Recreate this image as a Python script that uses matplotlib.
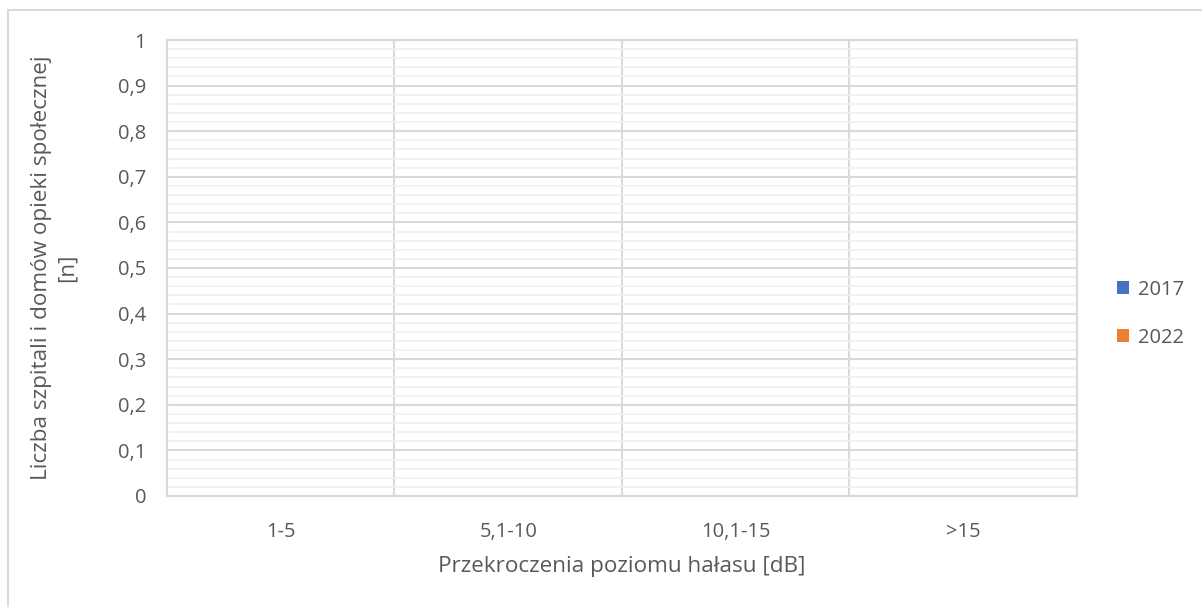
import matplotlib.pyplot as plt
import numpy as np
from matplotlib.lines import Line2D
from matplotlib.patches import Patch

categories = ['1-5', '5,1-10', '10,1-15', '>15']
series_names = ['2017', '2022']
values_2017 = [0, 0, 0, 0]
values_2022 = [0, 0, 0, 0]
y_ticks = [0, 0.1, 0.2, 0.3, 0.4, 0.5, 0.6, 0.7, 0.8, 0.9, 1]
y_labels = ['0', '0,1', '0,2', '0,3', '0,4', '0,5', '0,6', '0,7', '0,8', '0,9', '1']

plt.rcParams['font.family'] = ['Open Sans', 'DejaVu Sans']
text_color = '#595959'
colors = ['#4472c4', '#ed7d31']

fig = plt.figure(figsize=(12.02, 6.07), dpi=100)
ax = fig.add_axes([0.1389, 0.1829, 0.7571, 0.7512])

x = np.arange(len(categories))
w = 0.3
ax.bar(x - w / 2, values_2017, w, color=colors[0], zorder=3)
ax.bar(x + w / 2, values_2022, w, color=colors[1], zorder=3)

ax.set_xlim(-0.5, len(categories) - 0.5)
ax.set_ylim(0, 1)
ax.set_yticks(y_ticks)
ax.set_yticklabels(y_labels)
ax.set_yticks(np.arange(0, 1.0001, 0.02), minor=True)
ax.set_xticks(x)
ax.set_xticklabels(categories)
ax.set_xticks(np.arange(-0.5, len(categories), 1), minor=True)

ax.grid(which='minor', axis='y', color='#f0f0f0', linewidth=1.2, zorder=0)
ax.grid(which='major', axis='y', color='#d9d9d9', linewidth=1.5, zorder=1)
ax.grid(which='minor', axis='x', color='#d9d9d9', linewidth=1.5, zorder=1)

for s in ax.spines.values():
    s.set_color('#d9d9d9')
    s.set_linewidth(1.5)

ax.tick_params(axis='both', which='both', length=0, labelsize=14.5, colors=text_color)
ax.tick_params(axis='x', pad=19)
ax.tick_params(axis='y', pad=15)

ax.set_xlabel('Przekroczenia poziomu hałasu [dB]', fontsize=16.2, color=text_color, labelpad=10)
ax.set_ylabel('Liczba szpitali i domów opieki społecznej\n[n]', fontsize=16.2, color=text_color,
              labelpad=29, linespacing=1.25)

handles = [Patch(facecolor=c, edgecolor='none') for c in colors]
leg = fig.legend(handles, series_names, loc='center left', bbox_to_anchor=(0.914, 0.483),
                 frameon=False, fontsize=14.5, handlelength=0.6, handleheight=0.6,
                 handletextpad=0.45, labelspacing=1.4, labelcolor=text_color)

# outer chart frame (top and left edges visible)
fig.add_artist(Line2D([0.0067, 1.0], [0.984, 0.984], transform=fig.transFigure, color='#d9d9d9', lw=1.5))
fig.add_artist(Line2D([0.0067, 0.0067], [0.0, 0.984], transform=fig.transFigure, color='#d9d9d9', lw=1.5))

fig.savefig('out.png', dpi=100)
